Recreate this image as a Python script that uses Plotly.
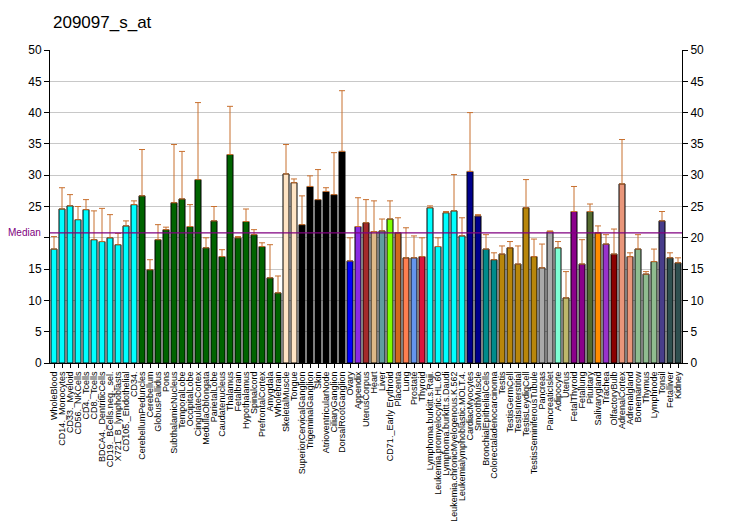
import plotly.graph_objects as go

title = "209097_s_at"
categories = [
    "WholeBlood", "CD14._Monocytes", "CD33._Myeloid", "CD56._NKCells", "CD4._Tcells",
    "CD8._Tcells", "BDCA4._DentriticCells", "CD19._BCells.neg._sel.", "X721_B_lymphoblasts",
    "CD105._Endothelial", "CD34.", "CerebellumPeduncles", "Cerebellum", "GlobusPallidus",
    "Pons", "SubthalamicNucleus", "TemporalLobe", "OccipitalLobe", "CingulateCortex",
    "MedullaOblongata", "ParietalLobe", "Caudatenucleus", "Thalamus", "Fetalbrain",
    "Hypothalamus", "Spinalcord", "PrefrontalCortex", "Amygdala", "Wholebrain",
    "SkeletalMuscle", "Tongue", "SuperiorCervicalGanglion", "TrigeminalGanglion", "Skin",
    "AtrioventricularNode", "CiliaryGanglion", "DorsalRootGanglion", "Ovary", "Appendix",
    "UterusCorpus", "Heart", "Liver", "CD71._Early Erythroid", "Placenta", "Lung",
    "Prostate", "Thyroid", "Lymphoma.burkitt.s.Raji.", "Leukemia.promyelocytic.HL.60",
    "Lymphoma.burkitt.s.Daudi", "Leukemia.chronicMyelogenous.K.562",
    "Leukemialymphoblastic.MOLT.4.", "CardiacMyocytes", "SmoothMuscle",
    "BronchialEpithelialCells", "Colorectaladenocarcinoma", "Testis", "TestisGermCell",
    "TestisInterstitial", "TestisLeydigCell", "TestisSeminiferousTubule", "Pancreas",
    "PancreaticIslet", "Adipocyte", "Uterus", "FetalThyroid", "Fetallung", "Pituitary",
    "Salivarygland", "Trachea", "OlfactoryBulb", "AdrenalCortex", "Adrenalgland",
    "Bonemarrow", "Thymus", "Lymphnode", "Tonsil", "Fetalliver", "Kidney",
]
values = [
    18.2, 24.6, 25.1, 22.9, 24.5, 19.7, 19.4, 20.0, 18.9, 21.9, 25.3,
    26.7, 14.9, 19.7, 21.3, 25.6, 26.2, 21.8, 29.3, 18.4, 22.7, 17.0, 33.3, 20.0,
    22.6, 20.5, 18.6, 13.6, 11.2,
    30.2, 28.8,
    22.1, 28.2, 26.1, 27.4, 26.9, 33.8,
    16.3, 21.8, 22.4, 21.0, 21.1, 23.0, 20.8, 16.8, 16.8, 17.0,
    24.8, 18.6, 24.0, 24.3, 20.3,
    30.6, 23.5, 18.2, 16.5,
    17.4, 18.4, 15.8, 24.8, 17.0,
    15.2, 21.0, 18.4, 10.4, 24.2, 15.8, 24.2, 20.8, 19.0, 17.4, 28.6, 17.0,
    18.2, 14.2, 16.2, 22.7, 16.8, 16.0,
]
upper = [
    20.2, 28.0, 26.9, 25.0, 26.1, 24.3, 24.7, 23.7, 20.7, 22.7, 25.9,
    34.1, 16.5, 22.1, 21.7, 34.9, 33.8, 25.3, 41.6, 20.0, 25.0, 18.1, 41.0, 20.2,
    24.6, 21.3, 19.2, 18.9, 13.9,
    34.9, 29.4,
    26.7, 29.9, 30.9, 28.0, 33.6, 43.5,
    20.0, 26.4, 26.1, 25.9, 23.0, 25.9, 23.2, 21.6, 20.3, 20.0,
    25.1, 20.0, 24.2, 30.1, 23.2,
    40.0, 23.7, 20.5, 17.6,
    18.7, 19.4, 18.7, 29.3, 19.8,
    19.0, 21.1, 19.4, 14.6, 28.2, 19.7, 25.4, 21.9, 20.5, 21.4, 35.7, 17.6,
    20.5, 14.6, 18.2, 24.2, 17.6, 16.8,
]
colors = (
    ["#00FFFF"] * 11 + ["#006400"] * 18 + ["#FFE4C4"] * 2 + ["#000000"] * 6
    + ["#0000FF", "#8A2BE2", "#A52A2A", "#DEB887", "#5F9EA0", "#7FFF00", "#D2691E",
       "#FF7F50", "#6495ED", "#DC143C"]
    + ["#00FFFF"] * 5 + ["#00008B"] * 2 + ["#008B8B"] * 2 + ["#B8860B"] * 5
    + ["#A9A9A9"] * 2 + ["#7FFFD4", "#BDB76B"] + ["#8B008B"] * 2
    + ["#556B2F", "#FF8C00", "#9932CC", "#8B0000"] + ["#E9967A"] * 2
    + ["#8FBC8F"] * 3 + ["#483D8B"] + ["#2F4F4F"] * 2
)
median = 20.8
y_ticks = [0, 5, 10, 15, 20, 25, 30, 35, 40, 45, 50]
left_tick_text = ["0", "5", "10", "15", "", "25", "30", "35", "40", "45", "50"]
right_tick_text = [str(t) for t in y_ticks]

err_plus = [u - v for u, v in zip(upper, values)]

fig = go.Figure()
fig.add_trace(go.Bar(
    x=categories, y=values,
    marker=dict(color=colors, line=dict(color="#000000", width=1)),
    error_y=dict(type="data", symmetric=False, array=err_plus,
                 arrayminus=[0] * len(values), color="#C8702F", thickness=1, width=3),
    showlegend=False, hoverinfo="x+y",
))
fig.add_trace(go.Scatter(x=[categories[0]], y=[0], yaxis="y2", mode="markers",
                         marker=dict(opacity=0), showlegend=False, hoverinfo="skip"))

fig.add_shape(type="line", xref="paper", x0=0, x1=1, yref="y", y0=median, y1=median,
              line=dict(color="#800080", width=1.2), layer="above")
fig.add_annotation(text="Median", xref="paper", yref="y", x=0, y=median, xanchor="right",
                   xshift=-7, yanchor="middle", showarrow=False,
                   font=dict(family="Liberation Sans, Arial", size=10, color="#800080"))

axis_font = dict(family="Liberation Sans, Arial", size=12, color="#000000")
fig.update_layout(
    width=732, height=530,
    margin=dict(l=42, r=58, t=42, b=175),
    paper_bgcolor="#FFFFFF", plot_bgcolor="#FFFFFF",
    bargap=0.25,
    title=dict(text=title, x=45 / 732, xref="container", xanchor="left",
               y=1 - 14 / 530, yref="container", yanchor="middle",
               font=dict(family="Liberation Sans, Arial", size=17, color="#000000")),
    xaxis=dict(type="category", categoryorder="array", categoryarray=categories,
               tickmode="array", tickvals=categories, ticktext=categories,
               tickangle=-90, automargin=False,
               tickfont=dict(family="Liberation Sans, Arial", size=9, color="#000000"),
               ticks="outside", ticklen=4, tickcolor="#000000", showline=True,
               linecolor="#000000", linewidth=1, showgrid=False, range=[-0.5, len(categories) - 0.5]),
    yaxis=dict(range=[0, 50], tickmode="array", tickvals=y_ticks, ticktext=left_tick_text,
               ticks="outside", ticklen=5, automargin=False,
               tickcolor="#000000", showline=True, linecolor="#000000", linewidth=1,
               showgrid=True, gridcolor="#C8C8C8", gridwidth=1, zeroline=False,
               tickfont=axis_font),
    yaxis2=dict(range=[0, 50], tickmode="array", tickvals=y_ticks, ticktext=right_tick_text,
                overlaying="y", side="right", automargin=False,
                ticks="outside", ticklen=5, tickcolor="#000000", showline=True,
                linecolor="#000000", linewidth=1, showgrid=False, zeroline=False,
                tickfont=axis_font),
)

fig.write_html("out.html")
